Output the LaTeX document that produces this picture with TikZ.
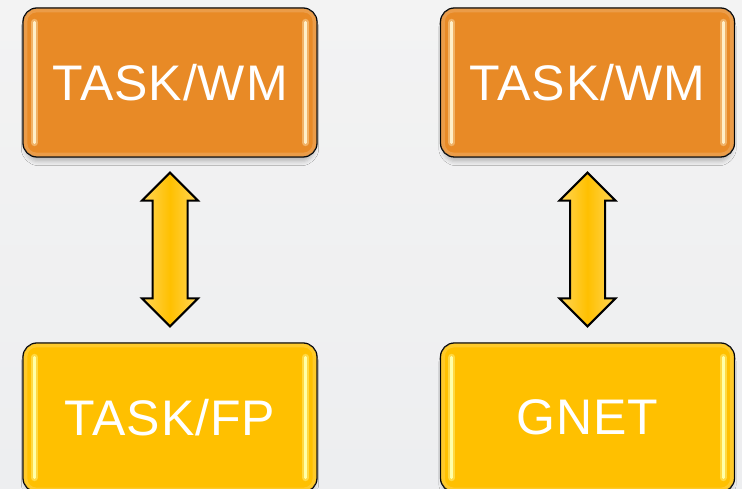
\documentclass[tikz,border=0pt]{standalone}
\usepackage{fontspec}
\setmainfont{Liberation Sans}[LetterSpace=2]
\usetikzlibrary{calc,shadows.blur}

\definecolor{bgtop}{HTML}{F3F3F3}
\definecolor{bgbot}{HTML}{EDEEF0}
\definecolor{boxorange}{HTML}{E88A26}
\definecolor{boxyellow}{HTML}{FFC000}
\definecolor{glossorange}{HTML}{FFEFC8}
\definecolor{glossyellow}{HTML}{FFFFA8}
\definecolor{arrowlight}{HTML}{FFD659}
\definecolor{arrowcore}{HTML}{FFC000}

\tikzset{
  panel/.style={draw=black, line width=1.3pt, rounded corners=14pt,
    minimum width=294pt, minimum height=149pt, inner sep=0pt,
    text=white, font=\fontsize{50}{56}\selectfont,
    blur shadow={shadow xshift=0pt, shadow yshift=-6pt, shadow scale=0.985,
      shadow blur radius=4pt, shadow opacity=22}},
  hot/.style={panel, fill=boxorange},
  warm/.style={panel, fill=boxyellow},
  rim/.style={draw=white, line width=4pt, opacity=0.16, rounded corners=11pt},
  glowstrip/.style={line width=7pt, line cap=round, opacity=0.4},
  strip/.style={line width=3pt, line cap=round},
  bigarrow/.style={draw=black, line width=2pt, line join=miter,
    left color=arrowlight, right color=arrowlight, middle color=arrowcore}
}

% light rim and glossy side strips of a panel
\newcommand{\panelgloss}[2]{%
  \draw[rim] ($(#1.north west)+(3,-3)$) rectangle ($(#1.south east)+(-3,3)$);
  \foreach \s/\a in {1/west,-1/east}{
    \draw[glowstrip,#2] ($(#1.north \a)+(\s*12,-15)$) -- ($(#1.south \a)+(\s*12,15)$);
    \draw[strip,#2] ($(#1.north \a)+(\s*12,-15)$) -- ($(#1.south \a)+(\s*12,15)$);
  }%
}

% two-headed block arrow between the lower edge of #1 and the upper edge of #2
\newcommand{\linkarrow}[2]{%
  \path[bigarrow] let \p1=(#1.south), \p2=(#2.north) in
    (\x1,\y1-15pt) -- (\x1+28pt,\y1-43pt) -- (\x1+17.5pt,\y1-43pt)
    -- (\x1+17.5pt,\y2+44pt) -- (\x1+28pt,\y2+44pt) -- (\x1,\y2+16pt)
    -- (\x1-28pt,\y2+44pt) -- (\x1-17.5pt,\y2+44pt)
    -- (\x1-17.5pt,\y1-43pt) -- (\x1-28pt,\y1-43pt) -- cycle;
}

\begin{document}
\begin{tikzpicture}[x=1pt,y=1pt]
  \useasboundingbox (0,0) rectangle (742,489);
  \clip (0,0) rectangle (742,489);
  \shade[top color=bgtop, bottom color=bgbot] (0,0) rectangle (742,489);

  \node[hot]  (wmL)  at (170,406.5)   {TASK/WM};
  \node[hot]  (wmR)  at (587.5,406.5) {TASK/WM};
  \node[warm] (fp)   at (170,71.5)    {TASK/FP};
  \node[warm] (gnet) at (587.5,71.5)  {GNET};

  \panelgloss{wmL}{glossorange}
  \panelgloss{wmR}{glossorange}
  \panelgloss{fp}{glossyellow}
  \panelgloss{gnet}{glossyellow}

  \linkarrow{wmL}{fp}
  \linkarrow{wmR}{gnet}
\end{tikzpicture}
\end{document}
